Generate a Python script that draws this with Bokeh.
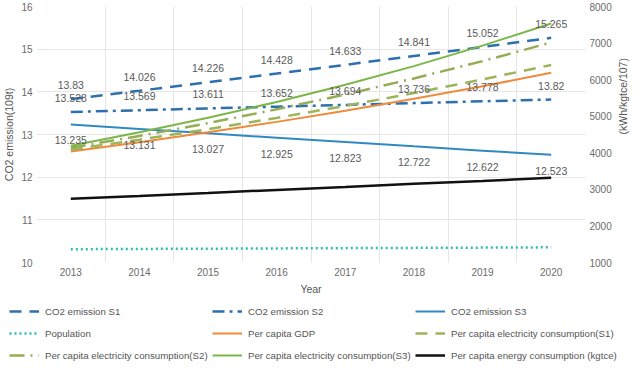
import math
from bokeh.plotting import figure
from bokeh.models import (Range1d, LinearAxis, FixedTicker, Legend, LegendItem,
                          ColumnDataSource, LabelSet)
from bokeh.core.properties import value
from bokeh.embed import file_html
from bokeh.resources import INLINE

years = [2013, 2014, 2015, 2016, 2017, 2018, 2019, 2020]
co2_s1 = [13.83, 14.026, 14.226, 14.428, 14.633, 14.841, 15.052, 15.265]
co2_s2 = [13.528, 13.569, 13.611, 13.652, 13.694, 13.736, 13.778, 13.82]
co2_s3 = [13.235, 13.131, 13.027, 12.925, 12.823, 12.722, 12.622, 12.523]
population = [1363, 1371, 1378, 1385, 1393, 1400, 1407, 1415]
gdp = [4034, 4290, 4560, 4845, 5150, 5475, 5820, 6186]
elec_s1 = [4086, 4357, 4646, 4954, 5283, 5633, 6007, 6401]
elec_s2 = [4137, 4461, 4811, 5188, 5595, 6033, 6506, 7016]
elec_s3 = [4190, 4560, 4960, 5390, 5860, 6370, 6930, 7535]
energy = [2745, 2820, 2900, 2985, 3065, 3150, 3230, 3316]
left_ticks = [10, 11, 12, 13, 14, 15, 16]
right_ticks = [1000, 2000, 3000, 4000, 5000, 6000, 7000, 8000]

FONT = "Liberation Sans"
GRAY = "#6b6b6b"

p = figure(frame_width=549, frame_height=256, output_backend="svg", toolbar_location=None,
           x_range=Range1d(2012.5, 2020.5), y_range=Range1d(10, 16),
           min_border_left=30, min_border_right=44, min_border_top=6, min_border_bottom=0)
p.extra_y_ranges = {"right": Range1d(1000, 8000)}
p.outline_line_color = None
p.background_fill_color = "white"

p.xaxis.ticker = FixedTicker(ticks=years)
p.xaxis.axis_label = "Year"
p.yaxis.ticker = FixedTicker(ticks=left_ticks)
p.yaxis.axis_label = "CO2 emission(109t)"
ra = LinearAxis(y_range_name="right", ticker=FixedTicker(ticks=right_ticks),
                axis_label="(kWh/kgtce/107)")
p.add_layout(ra, "right")
for ax in p.axis:
    ax.axis_line_color = None
    ax.major_tick_line_color = None
    ax.minor_tick_line_color = None
    ax.major_tick_in = 0
    ax.major_tick_out = 0
    ax.major_label_text_font = FONT
    ax.major_label_text_font_size = "10px"
    ax.major_label_text_color = GRAY
    ax.axis_label_text_font = FONT
    ax.axis_label_text_font_size = "10.5px"
    ax.axis_label_text_font_style = "normal"
    ax.axis_label_text_color = "#555555"
    ax.major_label_standoff = 5
    ax.axis_label_standoff = 4
p.yaxis.major_label_standoff = 4
p.yaxis.axis_label_standoff = 3
ra.major_label_standoff = 4
ra.axis_label_standoff = 8
try:
    ra.axis_label_orientation = math.pi / 2
except Exception:
    pass

p.xgrid.ticker = FixedTicker(ticks=[y + 0.5 for y in range(2012, 2021)])
p.xgrid.grid_line_color = "#e6e6e6"
p.ygrid.grid_line_color = "#e6e6e6"

BLUE = "#2e6fae"
styles = [
    dict(line_color=BLUE, line_width=2.5, line_dash="12 8"),
    dict(line_color=BLUE, line_width=2.5, line_dash="12 5 3 5"),
    dict(line_color="#3189c4", line_width=2),
    dict(line_color="#2bbcbc", line_width=2.5, line_dash="2 3"),
    dict(line_color="#ed8a3c", line_width=2),
    dict(line_color="#9cb45a", line_width=2.5, line_dash="12 8"),
    dict(line_color="#95ad55", line_width=2.5, line_dash="15 6 2 6"),
    dict(line_color="#7ab648", line_width=2),
    dict(line_color="#111111", line_width=2.5),
]
names = ["CO2 emission S1", "CO2 emission S2", "CO2 emission S3",
         "Population", "Per capita GDP", "Per capita electricity consumption(S1)",
         "Per capita electricity consumption(S2)", "Per capita electricity consumption(S3)",
         "Per capita energy consumption (kgtce)"]
series = [co2_s1, co2_s2, co2_s3, population, gdp, elec_s1, elec_s2, elec_s3, energy]
axes_of = ["default"] * 3 + ["right"] * 6

for vals, st, rng in zip(series, styles, axes_of):
    p.line(years, vals, y_range_name=rng, **st)

def labels(vals, yoff):
    src = ColumnDataSource(dict(x=years, y=vals, t=[f"{v:g}" for v in vals]))
    ls = LabelSet(x="x", y="y", text="t", source=src, y_offset=yoff, text_align="center",
                  text_baseline="middle", text_font_size="10.5px", text_color="#5a5a5a",
                  text_font=value(FONT))
    p.add_layout(ls)

labels(co2_s1, 14)
labels(co2_s2, 14)
labels(co2_s3, -16)

# legend panel (separate root so its frame spans the full width)
LH = 66
q = figure(width=624, height=LH, output_backend="svg", toolbar_location=None,
           x_axis_type=None, y_axis_type=None, x_range=Range1d(0, 1), y_range=Range1d(0, 1),
           min_border=0)
q.outline_line_color = None
q.grid.visible = False
# swatch renderers kept outside the visible range; only their legend glyphs show
samples = [q.line([-5, -4], [-5, -4], **st) for st in styles]
for i in range(3):
    lg = Legend(items=[LegendItem(label=names[3 * i + j], renderers=[samples[3 * i + j]]) for j in range(3)],
                orientation="horizontal", location=(9, LH - 21 - 22 * i))
    lg.border_line_color = None
    lg.background_fill_alpha = 0
    lg.label_text_font = FONT
    lg.label_text_font_size = "9.7px"
    lg.label_text_color = "#555555"
    lg.glyph_width = 30
    lg.glyph_height = 14
    lg.label_height = 14
    lg.label_width = 164
    lg.label_standoff = 6
    lg.spacing = 3
    lg.padding = 3
    lg.margin = 0
    q.add_layout(lg)

open("out.html", "w").write(file_html([p, q], INLINE))
